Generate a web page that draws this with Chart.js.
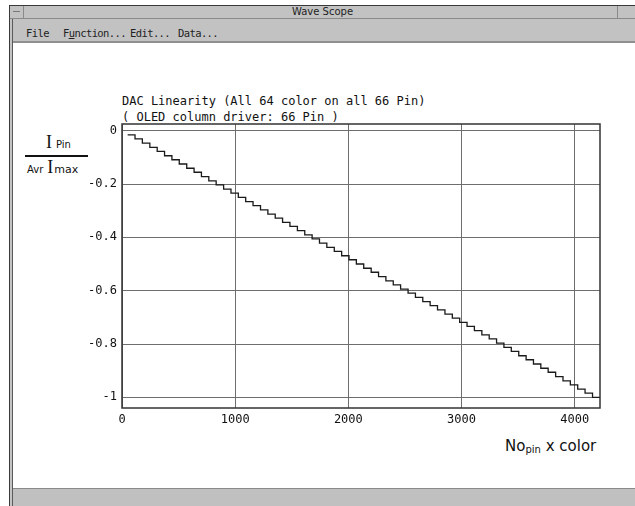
<!DOCTYPE html>
<html>
<head>
<meta charset="utf-8">
<script src="https://cdn.jsdelivr.net/npm/chart.js@4/dist/chart.umd.min.js"></script>
<style>
  html, body { margin:0; padding:0; background:#fff; }
  body { width:635px; height:506px; position:relative; overflow:hidden; font-family:"DejaVu Sans", sans-serif; }
  .abs { position:absolute; }
  #frameTop { left:9px; top:5px; width:626px; height:1px; background:#3a3a3a; }
  #frameLeft { left:9px; top:5px; width:1px; height:501px; background:#3a3a3a; }
  #frameLeft2 { left:12px; top:18px; width:1px; height:488px; background:#5a5a5a; }
  #frameFill { left:10px; top:6px; width:2px; height:500px; background:#c4c4c4; }
  #titleBar { left:10px; top:6px; width:625px; height:12px; background:#c2c2c2; border-bottom:1px solid #8a8a8a; }
  #titleBox { left:10px; top:6px; width:13px; height:12px; border-right:1px solid #8a8a8a; }
  #titleBox2 { left:617px; top:6px; width:18px; height:12px; border-left:1px solid #8a8a8a; }
  #titleText { left:10px; top:5px; width:625px; text-align:center; font-size:10px; color:#222; line-height:14px; }
  #menuBar { left:13px; top:19px; width:622px; height:22px; background:#c2c2c2; border-bottom:2px solid #8f8f8f; }
  .menu { top:27px; font-size:10.5px; color:#222; font-family:"DejaVu Sans Mono", monospace; letter-spacing:-0.6px; }
  #bottomBar { left:13px; top:488px; width:622px; height:18px; background:#c0c0c0; border-top:1px solid #8a8a8a; }
  .ttl { left:122px; font-family:"DejaVu Sans Mono", monospace; font-size:12px; color:#111; line-height:14px; white-space:pre; }
  .serif { font-family:"Liberation Serif", serif; }
  #chart { position:absolute; left:0; top:0; }
</style>
</head>
<body>
<div class="abs" id="frameTop"></div>
<div class="abs" id="frameFill"></div>
<div class="abs" id="frameLeft"></div>
<div class="abs" id="frameLeft2"></div>
<div class="abs" id="titleBar"></div>
<div class="abs" id="titleBox"><div style="position:absolute;left:3px;top:5px;width:7px;height:1px;background:#777"></div></div>
<div class="abs" id="titleBox2"></div>
<div class="abs" id="titleText">Wave Scope</div>
<div class="abs" id="menuBar"></div>
<div class="abs menu" style="left:26px">File</div>
<div class="abs menu" style="left:63px">F<u>u</u>nction...</div>
<div class="abs menu" style="left:130px">Edit...</div>
<div class="abs menu" style="left:178px">Data...</div>
<div class="abs" id="bottomBar"></div>

<div class="abs ttl" style="top:94px">DAC Linearity (All 64 color on all 66 Pin)</div>
<div class="abs ttl" style="top:110px">( OLED column driver: 66 Pin )</div>

<!-- y axis label as fraction -->
<div class="abs" style="left:46px;top:132px;white-space:nowrap;color:#111"><span class="serif" style="font-size:18px">I</span><span style="font-size:10px;margin-left:4px">Pin</span></div>
<div class="abs" style="left:25px;top:155px;width:63px;height:2px;background:#111"></div>
<div class="abs" style="left:27px;top:157px;white-space:nowrap;color:#111"><span style="font-size:10px">Avr</span><span class="serif" style="font-size:18px;margin-left:4px">I</span><span style="font-size:11px;margin-left:1px">max</span></div>

<!-- x axis label -->
<div class="abs" style="left:505px;top:437px;white-space:nowrap;color:#111;font-size:15px">No<span style="font-size:10px;position:relative;top:2px">pin</span> x color</div>

<canvas id="chart" width="635" height="506"></canvas>

<script>
// Step start positions (No_pin x color) and the normalised current level of each step
const stepX = [50, 115, 180, 246, 311, 376, 441, 506, 572, 637, 702, 767, 832, 898, 963, 1028,
  1093, 1158, 1224, 1289, 1354, 1419, 1484, 1550, 1615, 1680, 1745, 1810, 1876, 1941, 2006, 2071,
  2136, 2202, 2267, 2332, 2397, 2462, 2528, 2593, 2658, 2723, 2788, 2854, 2919, 2984, 3049, 3114,
  3180, 3245, 3310, 3375, 3440, 3506, 3571, 3636, 3701, 3766, 3832, 3897, 3962, 4027, 4092, 4158, 4224];
const stepLevel = [-0.016, -0.031, -0.047, -0.063, -0.078, -0.094, -0.109, -0.125, -0.141, -0.156,
  -0.172, -0.188, -0.203, -0.219, -0.234, -0.250, -0.266, -0.281, -0.297, -0.313,
  -0.328, -0.344, -0.359, -0.375, -0.391, -0.406, -0.422, -0.438, -0.453, -0.469,
  -0.484, -0.500, -0.516, -0.531, -0.547, -0.563, -0.578, -0.594, -0.609, -0.625,
  -0.641, -0.656, -0.672, -0.688, -0.703, -0.719, -0.734, -0.750, -0.766, -0.781,
  -0.797, -0.813, -0.828, -0.844, -0.859, -0.875, -0.891, -0.906, -0.922, -0.938,
  -0.953, -0.969, -0.984, -1.000, -1.000];
const xTicks = [0, 1000, 2000, 3000, 4000];
const yTicks = [0, -0.2, -0.4, -0.6, -0.8, -1];

const points = stepX.map((x, i) => ({ x: x, y: stepLevel[i] }));

const frameRect = {
  id: 'frameRect',
  afterDraw(chart) {
    const a = chart.chartArea, c = chart.ctx;
    c.save();
    c.strokeStyle = '#333';
    c.lineWidth = 1.5;
    c.strokeRect(a.left, a.top, a.right - a.left, a.bottom - a.top);
    c.restore();
  }
};

new Chart(document.getElementById('chart'), {
  type: 'line',
  data: {
    datasets: [{
      data: points,
      stepped: 'before',
      borderColor: '#1a1a1a',
      borderWidth: 1.3,
      pointRadius: 0,
      fill: false
    }]
  },
  options: {
    responsive: false,
    animation: false,
    layout: { padding: { left: 72, right: 35, top: 124, bottom: 68 } },
    plugins: { legend: { display: false }, tooltip: { enabled: false } },
    scales: {
      x: {
        type: 'linear',
        min: 0, max: 4224,
        afterBuildTicks(s) { s.ticks = xTicks.map(v => ({ value: v })); },
        afterFit(s) { s.height = 30; },
        grid: { color: '#6e6e6e', lineWidth: 1, drawTicks: false },
        border: { display: false },
        ticks: { padding: 5, color: '#111', maxRotation: 0, autoSkip: false,
          font: { family: 'DejaVu Sans Mono', size: 12 }, callback: v => String(v) }
      },
      y: {
        type: 'linear',
        min: -1.04, max: 0.025,
        afterBuildTicks(s) { s.ticks = yTicks.map(v => ({ value: v })); },
        afterFit(s) { s.width = 50; },
        grid: { color: '#6e6e6e', lineWidth: 1, drawTicks: false },
        border: { display: false },
        ticks: { padding: 5, color: '#111', autoSkip: false,
          font: { family: 'DejaVu Sans Mono', size: 12 }, callback: v => String(v) }
      }
    }
  },
  plugins: [frameRect]
});
</script>
</body>
</html>
